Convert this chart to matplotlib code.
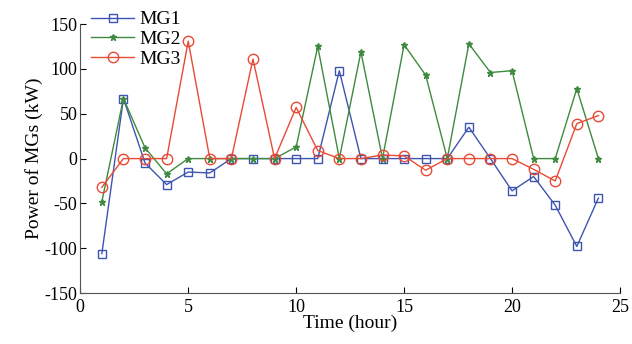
import numpy as np
import matplotlib
matplotlib.use("Agg")
import matplotlib.pyplot as plt

plt.rcParams['font.family'] = ['Liberation Serif', 'DejaVu Serif']
plt.rcParams['axes.unicode_minus'] = False

hours = list(range(1, 25))
mg1 = [-106, 67, -5, -29, -15, -16, 0, 0, 0, 0, 0, 98,
       0, 0, 0, 0, 0, 35, 0, -36, -20, -52, -98, -44]
mg2 = [-48, 67, 12, -17, 0, 0, 0, 0, 0, 13, 125, 0,
       119, 0, 127, 93, 0, 128, 96, 98, 0, 0, 78, 0]
mg3 = [-32, 0, 0, 0, 131, 0, 0, 111, 0, 57, 9, 0,
       0, 4, 3, -13, 0, 0, 0, 0, -12, -25, 39, 48]

fig = plt.figure(figsize=(6.32, 3.44), dpi=100)
ax = fig.add_axes([0.127, 0.148, 0.854, 0.782])

ax.plot(hours, mg1, color='#3d55b0', marker='s', markersize=5.5, markerfacecolor='none',
        linewidth=1.0, label='MG1')
ax.plot(hours, mg2, color='#3e8a3e', marker='*', markersize=5, linewidth=1.0, label='MG2')
ax.plot(hours, mg3, color='#e84a35', marker='o', markersize=7.5, markerfacecolor='none',
        linewidth=1.0, label='MG3')

ax.set_xlim(0, 25)
ax.set_ylim(-150, 150)
ax.set_xticks([0, 5, 10, 15, 20, 25])
ax.set_yticks([-150, -100, -50, 0, 50, 100, 150])
ax.tick_params(direction='in', labelsize=13, length=4)
ax.tick_params(axis='x', pad=4)
ax.tick_params(axis='y', pad=2)
ax.spines['top'].set_visible(False)
ax.spines['right'].set_visible(False)
for s in ['left', 'bottom']:
    ax.spines[s].set_color('#555555')

ax.set_xlabel('Time (hour)', fontsize=14, labelpad=-1)
ax.set_ylabel('Power of MGs (kW)', fontsize=14, labelpad=1)

ax.legend(loc='upper left', bbox_to_anchor=(-0.005, 1.1), frameon=False, fontsize=14,
          handlelength=2.2, handletextpad=0.3, labelspacing=0.1, borderpad=0.2)

fig.savefig('out.png', dpi=100)
